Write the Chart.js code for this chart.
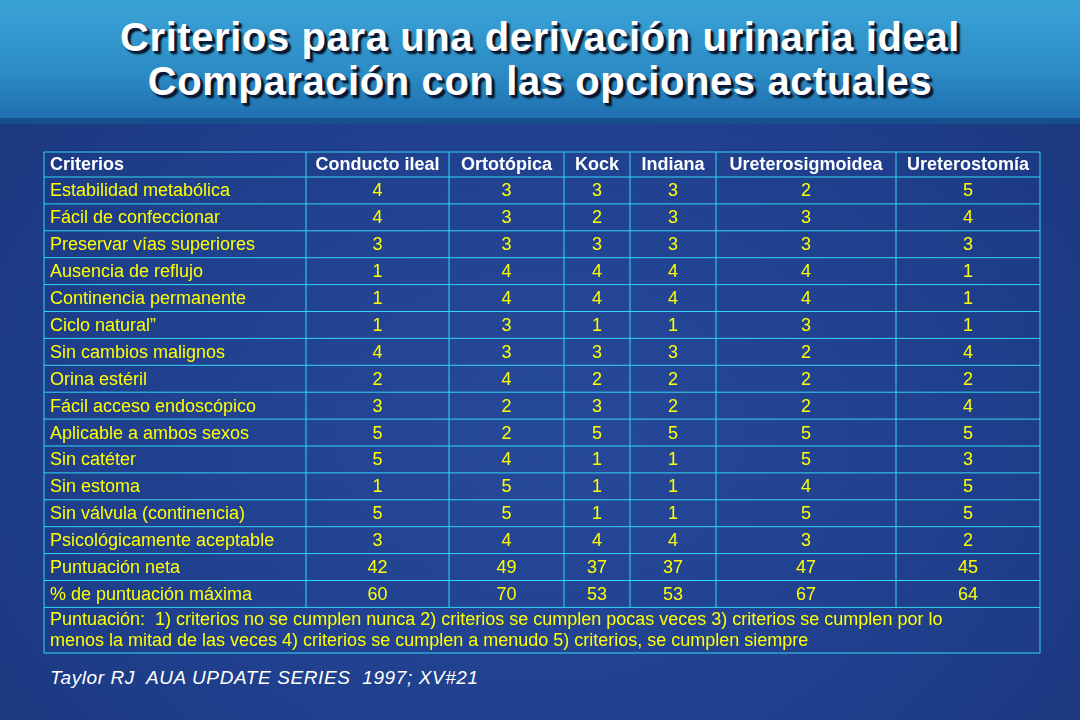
<!DOCTYPE html>
<html><head><meta charset="utf-8">
<script src="https://cdn.jsdelivr.net/npm/chart.js@4/dist/chart.umd.min.js"></script>
<style>
html,body{margin:0;padding:0;width:1080px;height:720px;overflow:hidden;font-family:"Liberation Sans",Arial,sans-serif}
body{background:radial-gradient(ellipse at 50% 60%,#27499a 0%,#1f3f8c 60%,#1a3479 100%);position:relative}
#banner{position:absolute;left:0;top:0;width:1080px;height:118px;background:linear-gradient(180deg,#3aa3d6 0%,#2c8cc6 60%,#1f6fae 100%);border-bottom:6px solid #16508c}
#title{position:absolute;left:0;top:15px;width:1080px;text-align:center;color:#fff;font-weight:bold;font-size:40px;line-height:44px;text-shadow:2px 2px 0 #0a1a40,3px 3px 2px #000;letter-spacing:0.6px}
#cite{position:absolute;left:50px;top:667px;color:#fff;font-style:italic;font-size:19px;letter-spacing:0.6px}
canvas{position:absolute;left:0;top:0}
</style></head><body>
<div id="banner"></div>
<div id="title">Criterios para una derivación urinaria ideal<br>Comparación con las opciones actuales</div>
<div id="cite">Taylor RJ&nbsp; AUA UPDATE SERIES&nbsp; 1997; XV#21</div>
<canvas id="c" width="1080" height="720"></canvas>
<script>
const columns=["Criterios","Conducto ileal","Ortotópica","Kock","Indiana","Ureterosigmoidea","Ureterostomía"];
const criteria=["Estabilidad metabólica","Fácil de confeccionar","Preservar vías superiores","Ausencia de reflujo","Continencia permanente","Ciclo natural”","Sin cambios malignos","Orina estéril","Fácil acceso endoscópico","Aplicable a ambos sexos","Sin catéter","Sin estoma","Sin válvula (continencia)","Psicológicamente aceptable","Puntuación neta","% de puntuación máxima"];
const conductoIleal=[4,4,3,1,1,1,4,2,3,5,5,1,5,3,42,60];
const ortotopica=[3,3,3,4,4,3,3,4,2,2,4,5,5,4,49,70];
const kock=[3,2,3,4,4,1,3,2,3,5,1,1,1,4,37,53];
const indiana=[3,3,3,4,4,1,3,2,2,5,1,1,1,4,37,53];
const ureterosigmoidea=[2,3,3,4,4,3,2,2,2,5,5,4,5,3,47,67];
const ureterostomia=[5,4,3,1,1,1,4,2,4,5,3,5,5,2,45,64];
const footnote=["Puntuación:  1) criterios no se cumplen nunca 2) criterios se cumplen pocas veces 3) criterios se cumplen por lo","menos la mitad de las veces 4) criterios se cumplen a menudo 5) criterios, se cumplen siempre"];
const series=[conductoIleal,ortotopica,kock,indiana,ureterosigmoidea,ureterostomia];
const colB=[0,262,405,520,586,672,852,996];
const rowB=[0,25];for(let i=1;i<=16;i++)rowB.push(+(25+26.9*i).toFixed(1));
const yMax=501;
const pts=[];
series.forEach((s,ci)=>s.forEach((v,ri)=>pts.push({x:(colB[ci+1]+colB[ci+2])/2,y:(rowB[ri+1]+rowB[ri+2])/2,t:String(v)})));
const tablePlugin={id:'table',afterDatasetsDraw(ch){
 const c=ch.ctx,xs=ch.scales.x,ys=ch.scales.y;const X=v=>xs.getPixelForValue(v),Y=v=>ys.getPixelForValue(v);
 c.save();c.strokeStyle='#33d6f0';c.lineWidth=1;
 c.beginPath();
 rowB.forEach(r=>{c.moveTo(X(0),Y(r));c.lineTo(X(996),Y(r));});
 c.moveTo(X(0),Y(yMax));c.lineTo(X(996),Y(yMax));
 colB.forEach((b,i)=>{const bot=(i==0||i==colB.length-1)?yMax:rowB[rowB.length-1];c.moveTo(X(b),Y(0));c.lineTo(X(b),Y(bot));});
 c.stroke();
 c.textBaseline='middle';
 c.font='bold 18px "Liberation Sans",Arial';c.fillStyle='#ffffff';
 columns.forEach((h,i)=>{const cy=Y(12.5)+1;if(i==0){c.textAlign='left';c.fillText(h,X(0)+6,cy);}else{c.textAlign='center';c.fillText(h,(X(colB[i])+X(colB[i+1]))/2,cy);}});
 c.font='18px "Liberation Sans",Arial';c.fillStyle='#ffff00';c.textAlign='left';
 criteria.forEach((t,ri)=>c.fillText(t,X(0)+6,Y((rowB[ri+1]+rowB[ri+2])/2)+1));
 c.textAlign='center';
 pts.forEach(p=>c.fillText(p.t,X(p.x),Y(p.y)+1));
 c.textAlign='left';
 footnote.forEach((t,i)=>c.fillText(t,X(0)+6,Y(rowB[rowB.length-1])+13+i*21));
 c.restore();}};
new Chart(document.getElementById('c'),{type:'scatter',
 data:{datasets:[{data:pts,pointRadius:0}]},
 options:{responsive:false,animation:false,events:[],
  layout:{padding:{left:44,right:40,top:152,bottom:67}},
  plugins:{legend:{display:false},tooltip:{enabled:false}},
  scales:{x:{type:'linear',min:0,max:996,display:false},y:{type:'linear',min:0,max:yMax,reverse:true,display:false}}},
 plugins:[tablePlugin]});
</script></body></html>
